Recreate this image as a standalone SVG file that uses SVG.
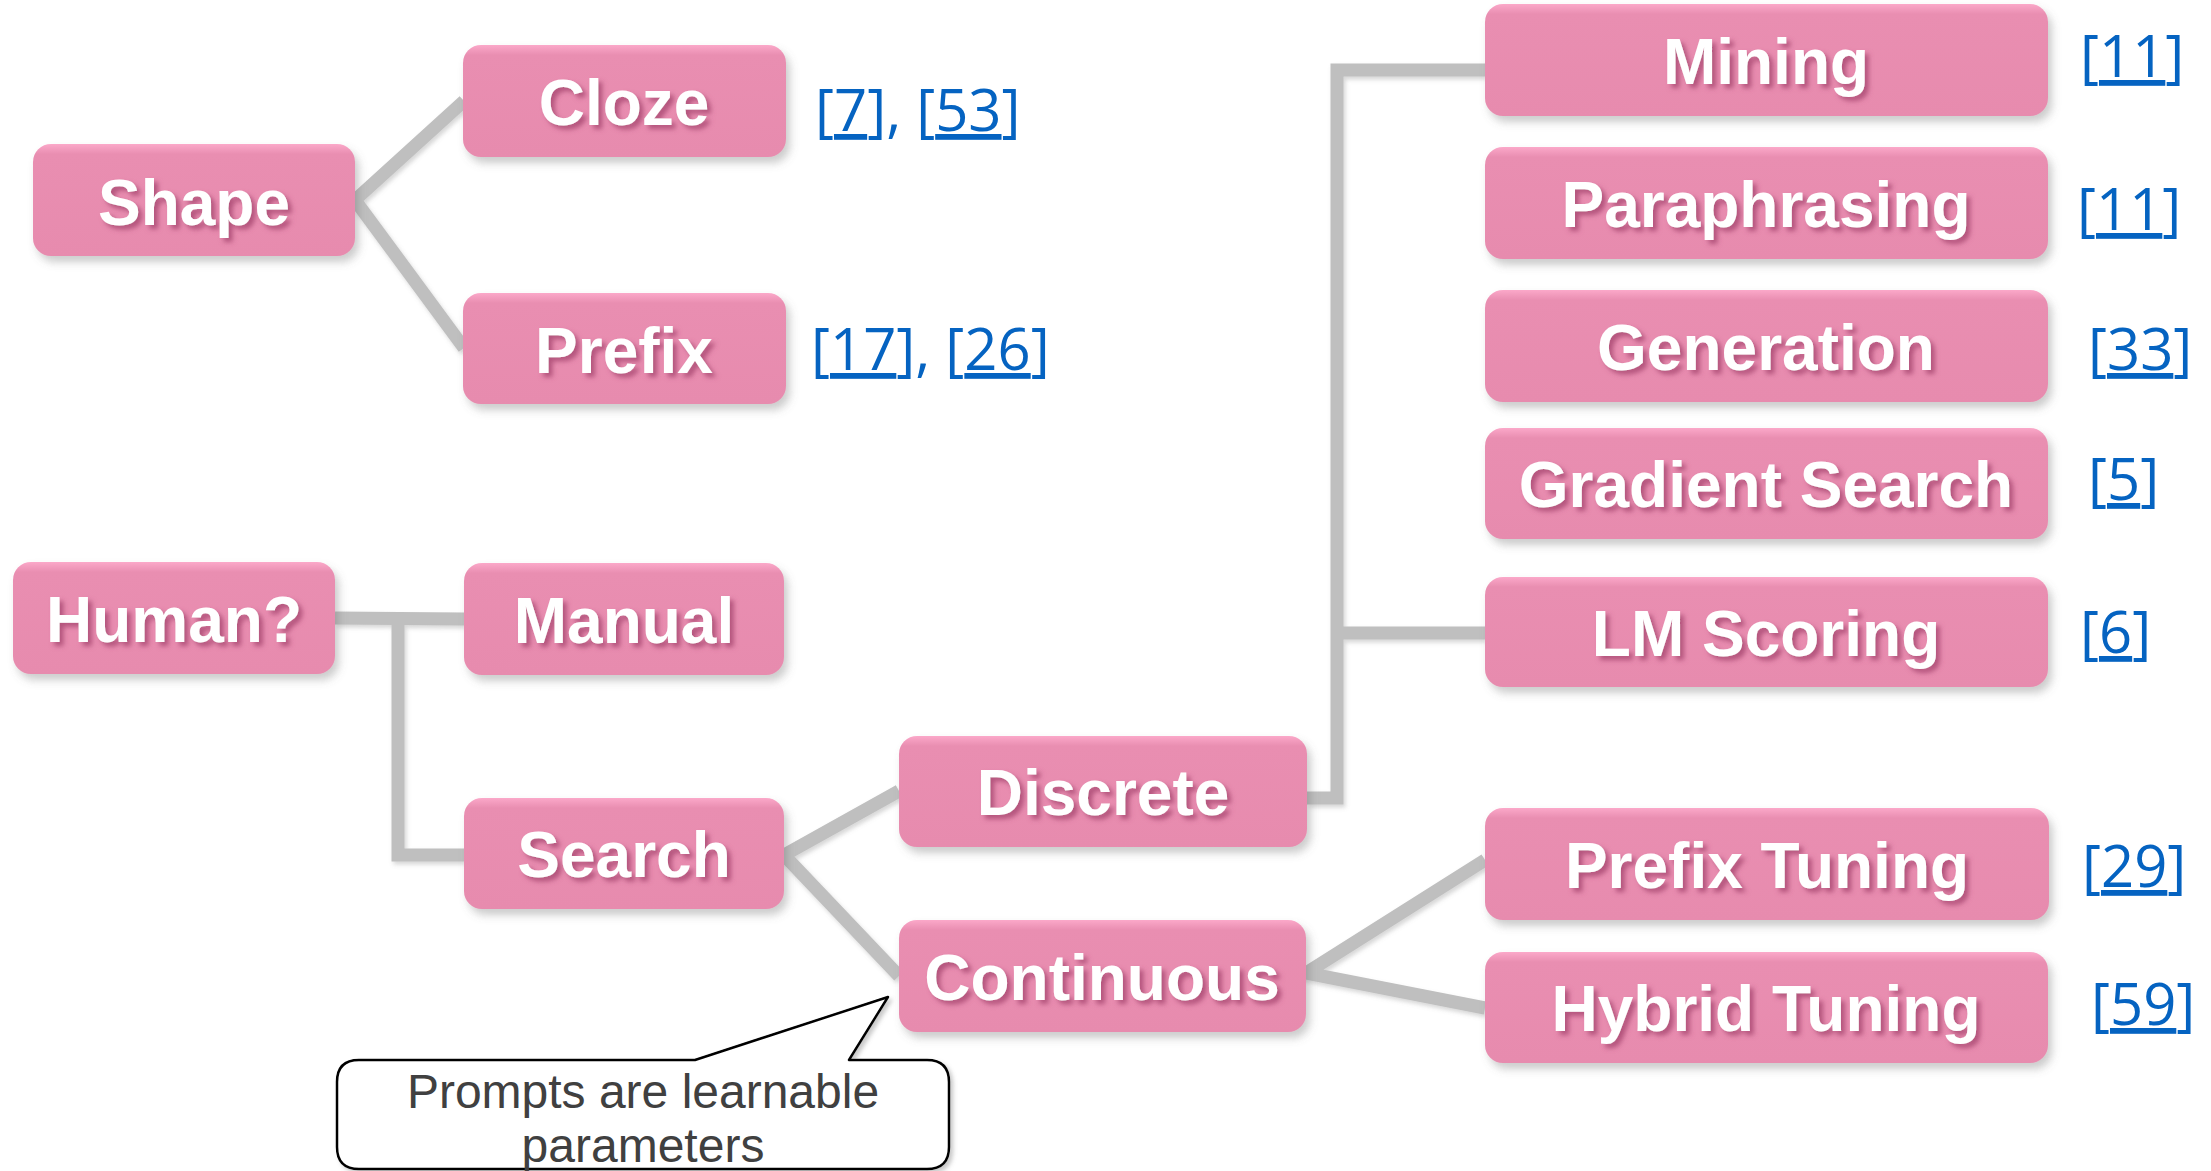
<svg xmlns="http://www.w3.org/2000/svg" width="2211" height="1171" viewBox="0 0 2211 1171">
  <defs>
    <linearGradient id="boxFill" x1="0" y1="0" x2="0" y2="1">
      <stop offset="0" stop-color="#FBA8C9"/>
      <stop offset="0.09" stop-color="#E98EB1"/>
      <stop offset="1" stop-color="#E78BAE"/>
    </linearGradient>
    <filter id="boxShadow" x="-10%" y="-20%" width="125%" height="150%">
      <feDropShadow dx="4" dy="6" stdDeviation="4" flood-color="#6b6b6b" flood-opacity="0.35"/>
    </filter>
    <filter id="textShadow" x="-10%" y="-30%" width="125%" height="170%">
      <feDropShadow dx="4" dy="4" stdDeviation="2.5" flood-color="#9C3D66" flood-opacity="0.7"/>
    </filter>
    <filter id="lineShadow" x="-10%" y="-10%" width="130%" height="130%">
      <feDropShadow dx="2" dy="3" stdDeviation="2" flood-color="#7a7a7a" flood-opacity="0.3"/>
    </filter>
    <filter id="calloutShadow" x="-10%" y="-20%" width="125%" height="150%">
      <feDropShadow dx="3" dy="3" stdDeviation="2" flood-color="#777" flood-opacity="0.4"/>
    </filter>
  </defs>
  <style>
    .box { fill: url(#boxFill); filter: url(#boxShadow); }
    .label { font-family: "Liberation Sans", Arial, sans-serif; font-weight: bold; font-size: 64px; fill: #ffffff; text-anchor: middle; filter: url(#textShadow); }
    .conn { fill: none; stroke: #BFBFBF; stroke-width: 13; stroke-linejoin: miter; stroke-linecap: butt; }
    .ref { font-family: "Open Sans", "Liberation Sans", sans-serif; font-size: 58px; fill: #0563C1; }
    .ul { text-decoration: underline; }
    .note { font-family: "Liberation Sans", Arial, sans-serif; font-size: 48px; fill: #404040; text-anchor: middle; }
  </style>

  <rect width="2211" height="1171" fill="#ffffff"/>

  <!-- connectors -->
  <g id="connectors" filter="url(#lineShadow)">
    <polyline class="conn" points="464,101 355,200 464,348"/>
    <polyline class="conn" points="335,618 464,619"/>
    <polyline class="conn" points="398,619 398,855 464,855"/>
    <polyline class="conn" points="899,791 784,855 899,976"/>
    <polyline class="conn" points="1307,798 1337,798 1337,70 1485,70"/>
    <polyline class="conn" points="1337,633 1485,633"/>
    <polyline class="conn" points="1485,860 1306,973 1485,1008"/>
  </g>

  <!-- nodes -->
  <g id="shape"><rect class="box" x="33" y="144" width="322" height="112" rx="18"/><text class="label" x="194" y="225">Shape</text></g>
  <g id="cloze"><rect class="box" x="463" y="45" width="323" height="112" rx="18"/><text class="label" x="624" y="125">Cloze</text></g>
  <g id="prefix"><rect class="box" x="463" y="293" width="323" height="111" rx="18"/><text class="label" x="624" y="373">Prefix</text></g>
  <g id="human"><rect class="box" x="13" y="562" width="322" height="112" rx="18"/><text class="label" x="174" y="642">Human?</text></g>
  <g id="manual"><rect class="box" x="464" y="563" width="320" height="112" rx="18"/><text class="label" x="624" y="643">Manual</text></g>
  <g id="search"><rect class="box" x="464" y="798" width="320" height="111" rx="18"/><text class="label" x="624" y="877">Search</text></g>
  <g id="discrete"><rect class="box" x="899" y="736" width="408" height="111" rx="18"/><text class="label" x="1103" y="815">Discrete</text></g>
  <g id="continuous"><rect class="box" x="899" y="920" width="407" height="112" rx="18"/><text class="label" x="1102" y="1000">Continuous</text></g>
  <g id="mining"><rect class="box" x="1485" y="4" width="563" height="112" rx="18"/><text class="label" x="1766" y="84">Mining</text></g>
  <g id="paraphrasing"><rect class="box" x="1485" y="147" width="563" height="112" rx="18"/><text class="label" x="1766" y="227">Paraphrasing</text></g>
  <g id="generation"><rect class="box" x="1485" y="290" width="563" height="112" rx="18"/><text class="label" x="1766" y="370">Generation</text></g>
  <g id="gradient-search"><rect class="box" x="1485" y="428" width="563" height="111" rx="18"/><text class="label" x="1766" y="507">Gradient Search</text></g>
  <g id="lm-scoring"><rect class="box" x="1485" y="577" width="563" height="110" rx="18"/><text class="label" x="1766" y="656">LM Scoring</text></g>
  <g id="prefix-tuning"><rect class="box" x="1485" y="808" width="564" height="112" rx="18"/><text class="label" x="1767" y="888">Prefix Tuning</text></g>
  <g id="hybrid-tuning"><rect class="box" x="1485" y="952" width="563" height="111" rx="18"/><text class="label" x="1766" y="1031">Hybrid Tuning</text></g>

  <!-- citations -->
  <g id="refs">
    <text class="ref" x="815" y="131">[<tspan class="ul">7</tspan>], [<tspan class="ul">53</tspan>]</text>
    <text class="ref" x="811" y="370">[<tspan class="ul">17</tspan>], [<tspan class="ul">26</tspan>]</text>
    <text class="ref" x="2080" y="77">[<tspan class="ul">11</tspan>]</text>
    <text class="ref" x="2077" y="230">[<tspan class="ul">11</tspan>]</text>
    <text class="ref" x="2088" y="370">[<tspan class="ul">33</tspan>]</text>
    <text class="ref" x="2088" y="500">[<tspan class="ul">5</tspan>]</text>
    <text class="ref" x="2080" y="653">[<tspan class="ul">6</tspan>]</text>
    <text class="ref" x="2082" y="887">[<tspan class="ul">29</tspan>]</text>
    <text class="ref" x="2091" y="1025">[<tspan class="ul">59</tspan>]</text>
  </g>

  <!-- speech-bubble note on Continuous -->
  <g id="note">
    <path d="M359,1060 L695,1060 L888,997 L849,1060 L927,1060 Q949,1060 949,1082 L949,1147 Q949,1169 927,1169 L359,1169 Q337,1169 337,1147 L337,1082 Q337,1060 359,1060 Z" fill="#ffffff" stroke="#000000" stroke-width="2.5" stroke-linejoin="round" filter="url(#calloutShadow)"/>
    <text class="note" x="643" y="1108">Prompts are learnable</text>
    <text class="note" x="643" y="1162">parameters</text>
  </g>
</svg>
